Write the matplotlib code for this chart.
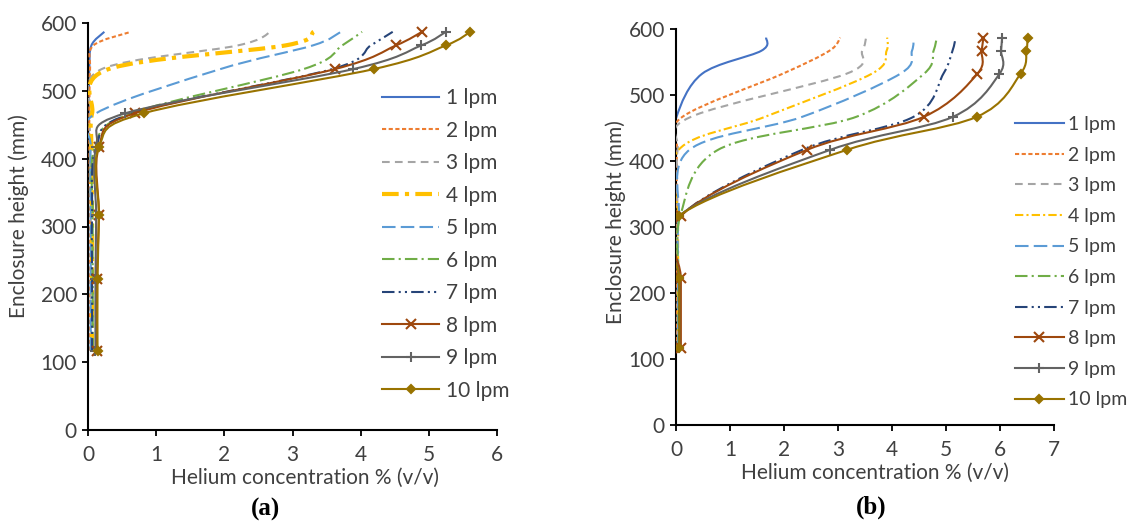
import numpy as np
import matplotlib
matplotlib.use("Agg")
import matplotlib.pyplot as plt
from matplotlib.path import Path
from matplotlib.patches import PathPatch
from matplotlib.lines import Line2D

plt.rcParams['font.family'] = ['Lato', 'DejaVu Sans']

# sensor heights (mm), bottom to top
heights = [117, 222, 317, 417, 467, 532, 567, 587]

labels = ["1 lpm", "2 lpm", "3 lpm", "4 lpm", "5 lpm",
          "6 lpm", "7 lpm", "8 lpm", "9 lpm", "10 lpm"]

# panel (a): helium concentration % (v/v) at each height
conc_a_1 = [0.00, 0.00, 0.00, 0.00, 0.01, 0.02, 0.05, 0.24]
conc_a_2 = [0.03, 0.03, 0.03, 0.02, 0.02, 0.03, 0.08, 0.63]
conc_a_3 = [0.04, 0.04, 0.04, 0.03, 0.04, 0.20, 2.20, 2.68]
conc_a_4 = [0.06, 0.06, 0.06, 0.05, 0.06, 0.30, 2.90, 3.31]
conc_a_5 = [0.04, 0.04, 0.04, 0.04, 0.12, 1.94, 3.30, 3.71]
conc_a_6 = [0.07, 0.07, 0.07, 0.10, 0.64, 3.16, 3.73, 4.02]
conc_a_7 = [0.06, 0.06, 0.06, 0.12, 0.65, 3.58, 4.15, 4.47]
conc_a_8 = [0.13, 0.13, 0.16, 0.16, 0.69, 3.62, 4.52, 4.90]
conc_a_9 = [0.11, 0.11, 0.12, 0.12, 0.55, 3.89, 4.89, 5.25]
conc_a_10 = [0.14, 0.14, 0.16, 0.16, 0.82, 4.19, 5.25, 5.61]

# panel (b)
conc_b_1 = [0.00, 0.00, 0.00, 0.00, 0.01, 0.48, 1.58, 1.67]
conc_b_2 = [0.02, 0.02, 0.02, 0.02, 0.12, 1.97, 2.84, 3.04]
conc_b_3 = [0.03, 0.03, 0.03, 0.03, 0.28, 3.15, 3.45, 3.52]
conc_b_4 = [0.04, 0.04, 0.04, 0.05, 1.65, 3.62, 3.90, 3.91]
conc_b_5 = [0.04, 0.04, 0.05, 0.25, 2.34, 4.15, 4.37, 4.40]
conc_b_6 = [0.05, 0.05, 0.08, 0.78, 3.34, 4.59, 4.77, 4.83]
conc_b_7 = [0.06, 0.06, 0.09, 2.34, 4.40, 4.95, 5.12, 5.18]
conc_b_8 = [0.09, 0.09, 0.09, 2.43, 4.59, 5.58, 5.66, 5.69]
conc_b_9 = [0.06, 0.06, 0.06, 2.86, 5.13, 5.99, 6.02, 6.04]
conc_b_10 = [0.06, 0.06, 0.06, 3.17, 5.57, 6.38, 6.49, 6.51]

series_a = [conc_a_1, conc_a_2, conc_a_3, conc_a_4, conc_a_5,
            conc_a_6, conc_a_7, conc_a_8, conc_a_9, conc_a_10]
series_b = [conc_b_1, conc_b_2, conc_b_3, conc_b_4, conc_b_5,
            conc_b_6, conc_b_7, conc_b_8, conc_b_9, conc_b_10]

# Excel office palette and line styles
colors = ["#4472C4", "#ED7D31", "#A5A5A5", "#FFC000", "#5B9BD5",
          "#70AD47", "#264478", "#9E480E", "#636363", "#997300"]
styles = ["-", (0, (2, 1.2)), (0, (3.7, 2.5)), (0, (4, 1.5, 1, 1.5)),
          (0, (6.5, 2.5)), (0, (6, 2, 1, 2)), (0, (6, 2, 1, 2, 1, 2)),
          "-", "-", "-"]
markers = [None] * 7 + ["x", "+", "D"]
msizes = [0] * 7 + [7, 7, 4]


def smooth_path(x, y):
    # Excel style smoothed line: cubic bezier through every data point
    pts = np.column_stack([x, y]).astype(float)
    n = len(pts)
    verts = [pts[0]]
    codes = [Path.MOVETO]
    for i in range(n - 1):
        p0 = pts[i - 1] if i > 0 else pts[i]
        p1, p2 = pts[i], pts[i + 1]
        p3 = pts[i + 2] if i + 2 < n else pts[i + 1]
        verts += [p1 + (p2 - p0) / 6, p2 - (p3 - p1) / 6, p2]
        codes += [Path.CURVE4] * 3
    return Path(verts, codes)


def draw_panel(ax, series, xmax, widths):
    handles = []
    for i, vals in enumerate(series):
        patch = PathPatch(smooth_path(vals, heights), fill=False,
                          edgecolor=colors[i], lw=widths[i],
                          linestyle=styles[i], capstyle='butt',
                          joinstyle='round', zorder=2 + i)
        ax.add_patch(patch)
        if markers[i]:
            ax.plot(vals, heights, linestyle='none', marker=markers[i],
                    ms=msizes[i], mew=1.5, color=colors[i], zorder=2.5 + i)
        handles.append(Line2D([], [], color=colors[i], lw=widths[i],
                              linestyle=styles[i], marker=markers[i],
                              ms=msizes[i], mew=1.5, dash_capstyle='butt'))
    ax.set_xlim(0, xmax)
    ax.set_ylim(0, 600)
    ax.set_xticks(range(0, xmax + 1))
    ax.set_yticks(range(0, 601, 100))
    for s in ['top', 'right']:
        ax.spines[s].set_visible(False)
    for s in ['left', 'bottom']:
        ax.spines[s].set_linewidth(1.5)
    ax.tick_params(direction='out', length=4, width=1.3, labelsize=15,
                   colors='black')
    ax.tick_params(axis='x', pad=7, labelcolor='#404040')
    ax.tick_params(axis='y', pad=4, labelcolor='#404040')
    ax.set_xlabel("Helium concentration % (v/v)", fontsize=15, color='#404040')
    ax.set_ylabel("Enclosure height (mm)", fontsize=15, color='#404040')
    ax.xaxis.label.set_va('center')
    ax.yaxis.label.set_va('center')
    return handles


fig = plt.figure(figsize=(11.29, 5.23), dpi=100)
W, H = 1129, 523

axA = fig.add_axes([88 / W, 1 - 430 / H, 409 / W, 407 / H])
axB = fig.add_axes([676 / W, 1 - 425 / H, 378 / W, 396 / H])

wa = [1.5, 1.5, 1.5, 3.0, 1.5, 1.5, 1.5, 1.5, 1.5, 1.5]
wb = [1.5] * 10
hA = draw_panel(axA, series_a, 6, wa)
hB = draw_panel(axB, series_b, 7, wb)

axA.xaxis.set_label_coords(0.53, -0.118)
axA.yaxis.set_label_coords(-0.169, 0.526)
axB.xaxis.set_label_coords(0.526, -0.122)
axB.yaxis.set_label_coords(-0.16, 0.512)

axA.legend(hA, labels, loc='upper left', frameon=False, fontsize=15,
           bbox_to_anchor=(382 / W, 1 - 88 / H), bbox_transform=fig.transFigure,
           borderpad=0, borderaxespad=0, handlelength=2.74,
           handletextpad=0.34, labelspacing=0.6, labelcolor='#404040')
axB.legend(hB, labels, loc='upper left', frameon=False, fontsize=14,
           bbox_to_anchor=(1015 / W, 1 - 116 / H), bbox_transform=fig.transFigure,
           borderpad=0, borderaxespad=0, handlelength=2.5,
           handletextpad=0.2, labelspacing=0.7, labelcolor='#404040')

fig.text(266 / W, 1 - 509 / H, "(a)", fontsize=18, fontweight='bold',
         family='Liberation Serif', ha='center', va='center')
fig.text(871 / W, 1 - 507 / H, "(b)", fontsize=18, fontweight='bold',
         family='Liberation Serif', ha='center', va='center')

fig.savefig("out.png", dpi=100)
